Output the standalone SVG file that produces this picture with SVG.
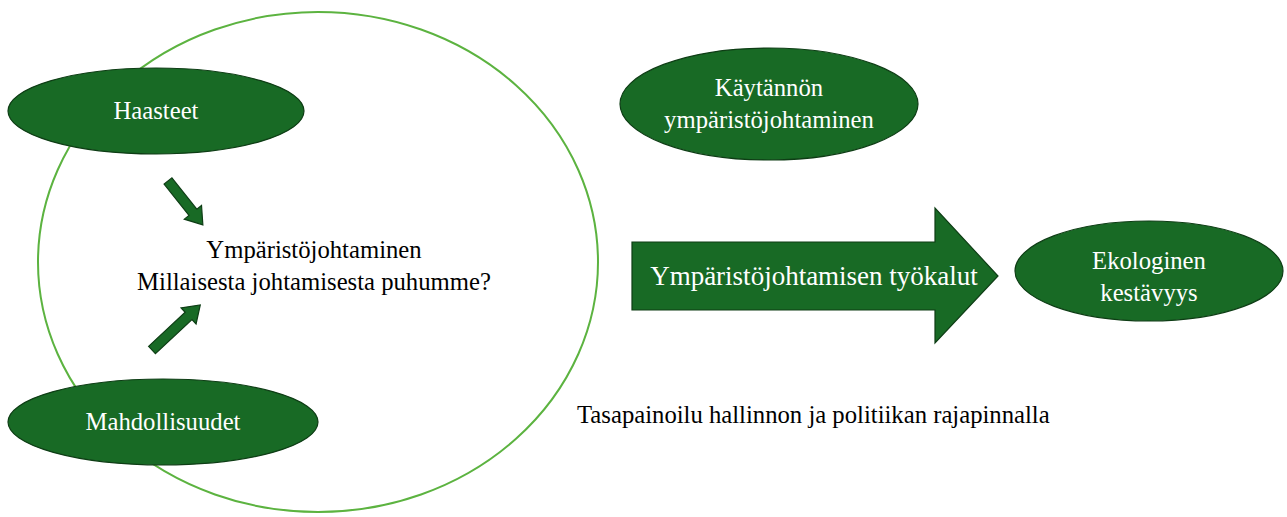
<svg xmlns="http://www.w3.org/2000/svg" width="1287" height="517" viewBox="0 0 1287 517">
<style>
.node{fill:#186a25;stroke:#0e3d15;stroke-width:1.2}
.wt{fill:#ffffff;font-family:"Liberation Serif","Times New Roman",serif;font-size:24.7px;text-anchor:middle}
.bt{fill:#000000;font-family:"Liberation Serif","Times New Roman",serif;font-size:24.7px}
.ring{fill:none;stroke:#5cb340;stroke-width:2}
</style>
<rect width="1287" height="517" fill="#ffffff"/>
<ellipse class="ring" cx="318" cy="262" rx="280" ry="250"/>
<g id="haasteet">
<ellipse class="node" cx="156" cy="111" rx="148" ry="43"/>
<text class="wt" x="156" y="119">Haasteet</text>
</g>
<g id="mahdollisuudet">
<ellipse class="node" cx="163" cy="422" rx="155" ry="43"/>
<text class="wt" x="163" y="430">Mahdollisuudet</text>
</g>
<g id="keskus">
<text class="bt" x="314" y="258" text-anchor="middle">Ympäristöjohtaminen</text>
<text class="bt" x="314" y="290" text-anchor="middle">Millaisesta johtamisesta puhumme?</text>
</g>
<g id="kaytannon">
<ellipse class="node" cx="769" cy="104" rx="149" ry="56"/>
<text class="wt" x="769" y="96">Käytännön</text>
<text class="wt" x="769" y="128">ympäristöjohtaminen</text>
</g>
<g id="ekologinen">
<ellipse class="node" cx="1149" cy="271" rx="134" ry="50"/>
<text class="wt" x="1149" y="269">Ekologinen</text>
<text class="wt" x="1149" y="301">kestävyys</text>
</g>
<g id="tasapainoilu">
<text class="bt" x="577" y="423">Tasapainoilu hallinnon ja politiikan rajapinnalla</text>
</g>
<g id="connectors">
<path class="node" d="M0,-5 L40,-5 L40,-11 L56,0 L40,11 L40,5 L0,5 Z" transform="translate(168,181) rotate(51.5)"/>
<path class="node" d="M0,-5 L50,-5 L50,-11 L66,0 L50,11 L50,5 L0,5 Z" transform="translate(152,350) rotate(-43)"/>
<g id="tyokalut">
<path class="node" d="M632,242 L935,242 L935,208 L998,276 L935,343 L935,310 L632,310 Z"/>
<text class="wt" x="814" y="285" style="font-size:27px">Ympäristöjohtamisen työkalut</text>
</g>
</g>
</svg>
